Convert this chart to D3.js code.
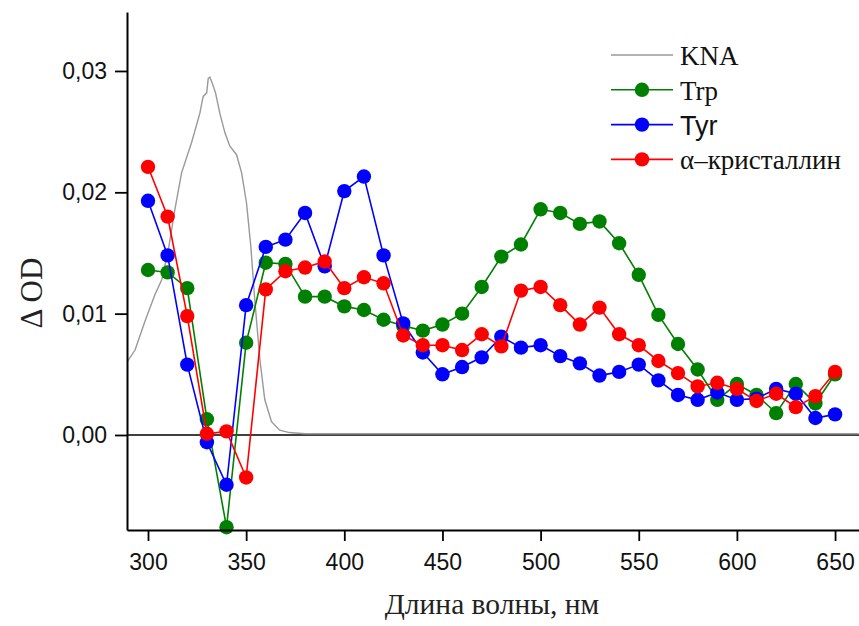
<!DOCTYPE html>
<html>
<head>
<meta charset="utf-8">
<script src="https://cdn.jsdelivr.net/npm/d3@7"></script>
<style>
  body { margin: 0; background: #fff; }
  svg { display: block; }
</style>
</head>
<body>
<div id="chart"></div>
<script>
// wavelengths of the measured points, nm
const waves = [300, 310, 320, 330, 340, 350, 360, 370, 380, 390, 400, 410, 420, 430, 440, 450, 460, 470,
    480, 490, 500, 510, 520, 530, 540, 550, 560, 570, 580, 590, 600, 610, 620, 630, 640, 650]

const trp = [0.0136, 0.0134, 0.0121, 0.0013, -0.0076, 0.0076, 0.0142, 0.0141, 0.0114, 0.0114, 0.0106, 0.0103,
    0.0095, 0.0090, 0.0086, 0.0091, 0.0100, 0.0122, 0.0147, 0.0157, 0.0186, 0.0183, 0.0174, 0.0176,
    0.0158, 0.0132, 0.0099, 0.0075, 0.0054, 0.0029, 0.0042, 0.0033, 0.0018, 0.0042, 0.0026, 0.0050]

const tyr = [0.0193, 0.0148, 0.0058, -0.0006, -0.0041, 0.0107, 0.0155, 0.0161, 0.0183, 0.0139, 0.0201, 0.0213,
    0.0148, 0.0092, 0.0068, 0.0050, 0.0056, 0.0064, 0.0081, 0.0072, 0.0074, 0.0065, 0.0059, 0.0049,
    0.0052, 0.0058, 0.0045, 0.0033, 0.0029, 0.0035, 0.0029, 0.0030, 0.0038, 0.0034, 0.0014, 0.0017]

const crystallin = [0.0221, 0.0180, 0.0098, 0.0001, 0.0003, -0.0035, 0.0120, 0.0135, 0.0138, 0.0143, 0.0121, 0.0130,
    0.0125, 0.0082, 0.0074, 0.0074, 0.0070, 0.0083, 0.0073, 0.0119, 0.0122, 0.0107, 0.0091, 0.0105,
    0.0083, 0.0074, 0.0061, 0.0051, 0.0040, 0.0043, 0.0038, 0.0028, 0.0034, 0.0023, 0.0032, 0.0052]

// KNA absorption spectrum (grey curve)
const knaWaves = [289.3, 293.4, 298.5, 303.6, 307, 310.3, 313.7, 317.1, 322.2, 326.4, 328.1, 329.9, 330.7,
    331.5, 332.7, 334.4, 336.6, 339.2, 341.7, 345.1, 347.7, 350.2, 352.4, 354.4, 357, 359.5, 362.9,
    367.1, 372, 380, 400, 450, 500, 550, 600, 662]
const knaValues = [0.0060, 0.0070, 0.0094, 0.0116, 0.0128, 0.0152, 0.0186, 0.0216, 0.0241, 0.0265, 0.0279,
    0.0282, 0.0294, 0.0295, 0.0290, 0.0282, 0.0265, 0.0249, 0.0238, 0.0231, 0.0216, 0.0191, 0.0155,
    0.0111, 0.0062, 0.0029, 0.0011, 0.0004, 0.0002, 0.0001, 0.0001, 0.0001, 0.0001, 0.0001, 0.0001, 0.0001]

const xTicks = [300, 350, 400, 450, 500, 550, 600, 650]
const yTicks = [0, 0.01, 0.02, 0.03]

const series = [
    {name: "Trp", values: trp, color: "#008000", font: "Liberation Serif"},
    {name: "Tyr", values: tyr, color: "#0000ff", font: "Liberation Sans"},
    {name: "α–кристаллин", values: crystallin, color: "#ff0000", font: "Liberation Serif"}
]

const width = 859,
    height = 626

const svg = d3.select("#chart").append("svg")
        .attr("width", width)
        .attr("height", height)

const x = d3.scaleLinear().domain([289.3, 662.2]).range([127, 859])
const y = d3.scaleLinear().domain([-0.00783, 0.03486]).range([530, 12])

const comma = d3.formatLocale({decimal: ",", thousands: " ", grouping: [3], currency: ["", ""]}).format(".2f")

// zero line
svg.append("line")
    .attr("x1", x.range()[0]).attr("x2", x.range()[1])
    .attr("y1", y(0)).attr("y2", y(0))
    .attr("stroke", "#000").attr("stroke-width", 1.6)

// KNA curve
svg.append("path")
    .datum(knaWaves.map((w, i) => [w, knaValues[i]]))
    .attr("fill", "none")
    .attr("stroke", "#999")
    .attr("stroke-width", 1.4)
    .attr("d", d3.line().x(d => x(d[0])).y(d => y(d[1])).curve(d3.curveLinear))

const line = d3.line().x(d => x(d[0])).y(d => y(d[1]))

series.forEach(s => {
    const pts = waves.map((w, i) => [w, s.values[i]])
    const g = svg.append("g")
    g.append("path")
        .datum(pts)
        .attr("fill", "none")
        .attr("stroke", s.color)
        .attr("stroke-width", 1.6)
        .attr("d", line)
    g.selectAll("circle")
        .data(pts)
        .enter()
        .append("circle")
        .attr("cx", d => x(d[0]))
        .attr("cy", d => y(d[1]))
        .attr("r", 7.2)
        .attr("fill", s.color)
})

// axes
const xAxis = svg.append("g")
        .attr("transform", "translate(0," + y.range()[0] + ")")
        .call(d3.axisBottom(x).tickValues(xTicks).tickSize(11).tickSizeOuter(0).tickPadding(13))
const yAxis = svg.append("g")
        .attr("transform", "translate(" + x.range()[0] + ",0)")
        .call(d3.axisLeft(y).tickValues(yTicks).tickFormat(comma).tickSize(12).tickSizeOuter(0).tickPadding(8))

;[xAxis, yAxis].forEach(a => {
    a.select(".domain").attr("stroke-width", 2)
    a.selectAll(".tick line").attr("stroke-width", 1.8)
    a.selectAll("text")
        .attr("font-family", "Liberation Sans, Arial, sans-serif")
        .attr("font-size", 23)
        .attr("fill", "#111")
})

svg.append("text")
    .attr("x", 492)
    .attr("y", 614)
    .attr("text-anchor", "middle")
    .attr("font-family", "Liberation Serif, Times New Roman, serif")
    .attr("font-size", 29.5)
    .attr("fill", "#222")
    .text("Длина волны, нм")

svg.append("text")
    .attr("transform", "translate(42,293) rotate(-90)")
    .attr("text-anchor", "middle")
    .attr("font-family", "Liberation Serif, Times New Roman, serif")
    .attr("font-size", 31)
    .attr("fill", "#222")
    .text("Δ OD")

// legend
const legend = svg.append("g").attr("transform", "translate(611,55)")
const rows = [{name: "KNA", color: "#999", font: "Liberation Serif", marker: false}]
    .concat(series.map(s => ({name: s.name, color: s.color, font: s.font, marker: true})))

rows.forEach((r, i) => {
    const row = legend.append("g").attr("transform", "translate(0," + (i * 34.8) + ")")
    row.append("line")
        .attr("x1", 0).attr("x2", 62)
        .attr("stroke", r.color)
        .attr("stroke-width", r.marker ? 1.6 : 1.4)
    if (r.marker) {
        row.append("circle").attr("cx", 31).attr("r", 7.2).attr("fill", r.color)
    }
    row.append("text")
        .attr("x", 69)
        .attr("y", 10)
        .attr("font-family", r.font + ", serif")
        .attr("font-size", 27)
        .attr("fill", "#111")
        .text(r.name)
})
</script>
</body>
</html>
